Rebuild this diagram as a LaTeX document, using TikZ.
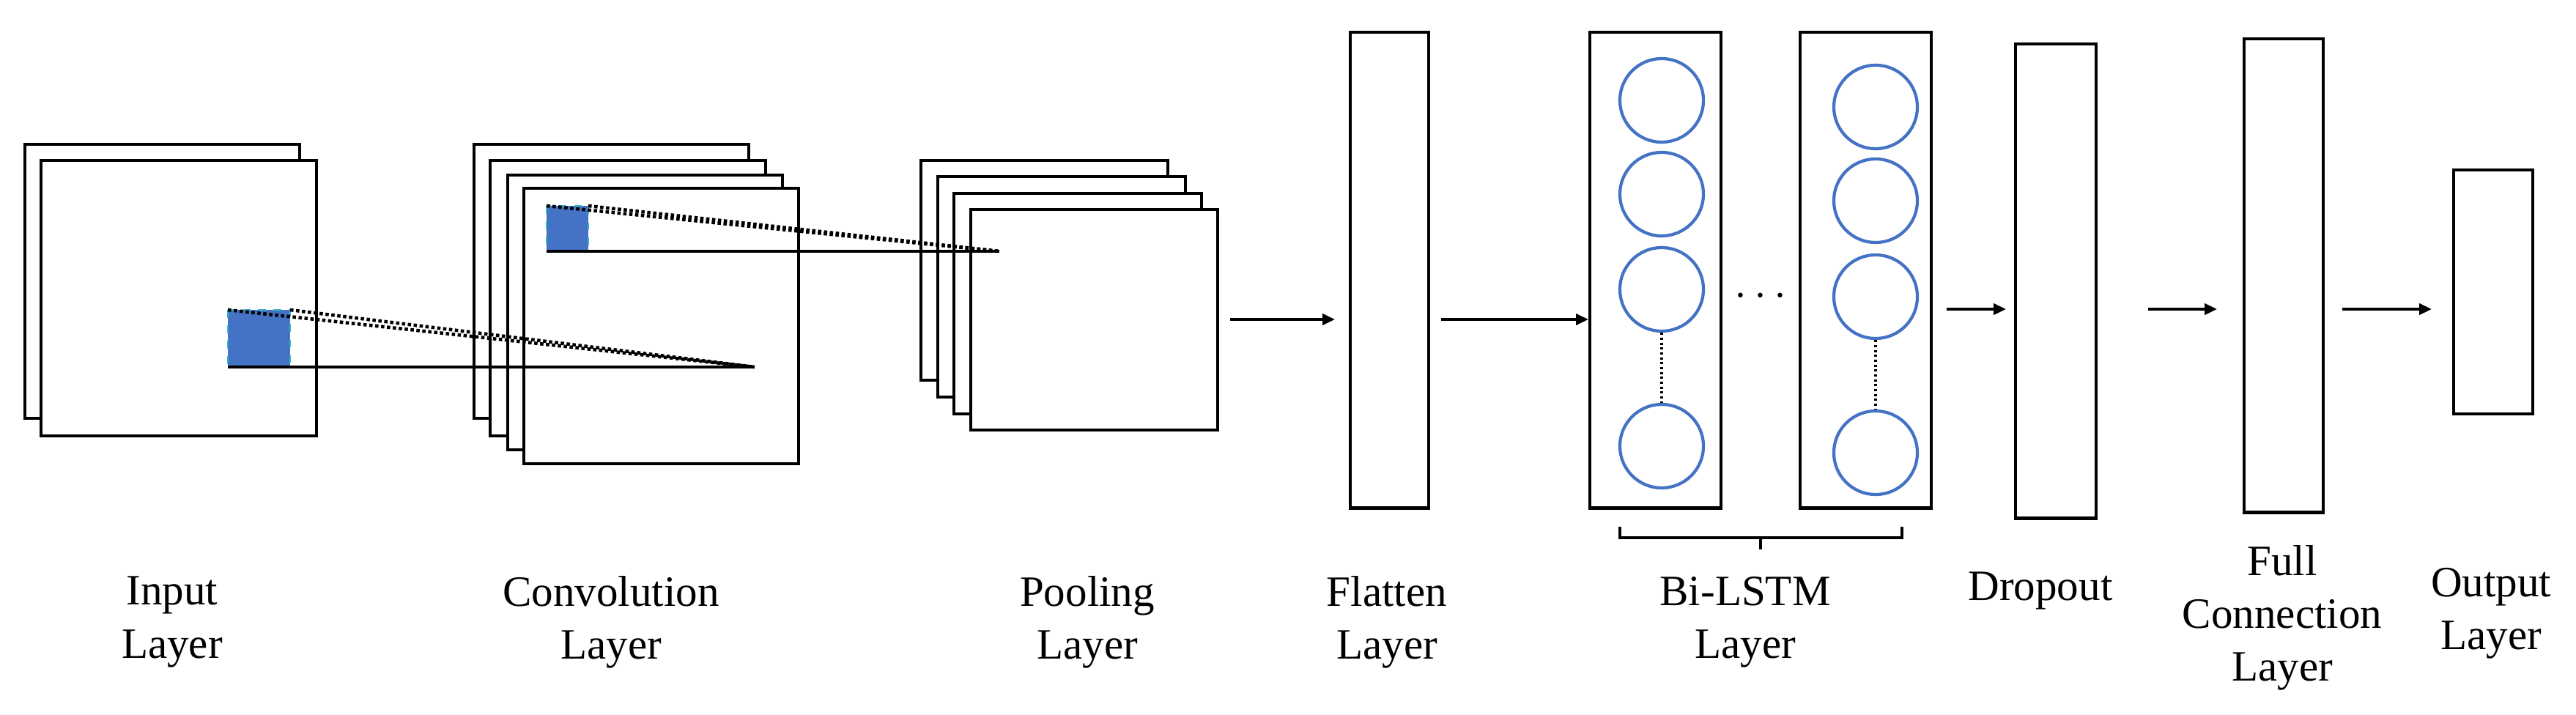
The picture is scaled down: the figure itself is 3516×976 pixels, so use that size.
\documentclass[tikz,border=0pt]{standalone}
\usepackage{fontspec}
\setmainfont{Liberation Serif}
\usetikzlibrary{arrows.meta}
\definecolor{cblue}{HTML}{4472C4}
\definecolor{ccyan}{HTML}{33B5C8}
\begin{document}
\begin{tikzpicture}[x=0.01cm,y=-0.01cm,
  box/.style={draw,line width=1.2pt,fill=white,inner sep=0pt,anchor=north west},
  cell/.style={draw=cblue,circle,line width=1.2pt,minimum size=1.14cm,inner sep=0pt},
  patch/.style={fill=cblue,draw=ccyan,dashed,line width=0.6pt},
  arr/.style={line width=1.3pt,-{Triangle[length=0.17cm,width=0.15cm]}},
  lbl/.style={font=\fontsize{16.8}{20.5}\selectfont,align=center},
  ray/.style={line width=1.3pt,densely dotted},
  base/.style={line width=1.3pt}]
\useasboundingbox (0,0) rectangle (3516,976);
% input layer
\node[box,minimum width=3.75cm,minimum height=3.74cm] (i1) at (32,195) {};
\node[box,minimum width=3.76cm,minimum height=3.76cm] (i2) at (54,217) {};
% convolution layer
\node[box,minimum width=3.75cm,minimum height=3.74cm] (c1) at (645,195) {};
\node[box,minimum width=3.76cm,minimum height=3.76cm] (c2) at (667,217) {};
\node[box,minimum width=3.75cm,minimum height=3.75cm] (c3) at (691,237) {};
\node[box,minimum width=3.75cm,minimum height=3.76cm] (c4) at (713,255) {};
% pooling layer
\node[box,minimum width=3.37cm,minimum height=3.00cm] (p1) at (1255,217) {};
\node[box,minimum width=3.38cm,minimum height=3.01cm] (p2) at (1278,239) {};
\node[box,minimum width=3.38cm,minimum height=3.01cm] (p3) at (1300,262) {};
\node[box,minimum width=3.37cm,minimum height=3.01cm] (p4) at (1323,284) {};
% patches and receptive field rays
\draw[patch] (311,423) rectangle (396,501);
\coordinate (a1) at (1030,501);
\draw[ray] (311,423) -- (a1);
\draw[ray] (396,423) -- (a1);
\draw[base] (311,501) -- (a1);
\draw[patch] (746,281) rectangle (803,343);
\coordinate (a2) at (1364,343);
\draw[ray] (746,281) -- (a2);
\draw[ray] (803,281) -- (a2);
\draw[base] (746,343) -- (a2);
% flatten
\node[box,minimum width=1.07cm,minimum height=6.49cm] (fl) at (1841,42) {};
% bi-lstm
\node[box,minimum width=1.79cm,minimum height=6.49cm] (l1) at (2168,42) {};
\node[box,minimum width=1.79cm,minimum height=6.49cm] (l2) at (2455,42) {};
\node[cell] (u1) at (2268,137) {};
\node[cell] (u2) at (2268,265) {};
\node[cell] (u3) at (2268,395) {};
\node[cell] (u4) at (2268,609) {};
\node[cell] (v1) at (2560,146) {};
\node[cell] (v2) at (2560,274) {};
\node[cell] (v3) at (2560,405) {};
\node[cell] (v4) at (2560,618) {};
\draw[densely dotted,line width=0.9pt] (u3) -- (u4);
\draw[densely dotted,line width=0.9pt] (v3) -- (v4);
\node[lbl] (dots) at (2403,405) {$\cdots$};
\draw[line width=1.2pt] (2211,719) -- (2211,734) -- (2596,734) -- (2596,719);
\draw[line width=1.2pt] (2403,734) -- (2403,750);
% dropout, fc, output
\node[box,minimum width=1.10cm,minimum height=6.47cm] (dr) at (2749,58) {};
\node[box,minimum width=1.08cm,minimum height=6.46cm] (fc) at (3061,51) {};
\node[box,minimum width=1.08cm,minimum height=3.33cm] (ou) at (3347,230) {};
% arrows
\coordinate (s1) at (1679,436); \coordinate (e1) at (1822,436);
\draw[arr] (s1) -- (e1);
\coordinate (s2) at (1967,436);
\draw[arr] (s2) -- (l1.west |- s2);
\coordinate (s3) at (2657,422); \coordinate (e3) at (2738,422);
\draw[arr] (s3) -- (e3);
\coordinate (s4) at (2932,422); \coordinate (e4) at (3026,422);
\draw[arr] (s4) -- (e4);
\coordinate (s5) at (3197,422); \coordinate (e5) at (3319,422);
\draw[arr] (s5) -- (e5);
% labels
\node[lbl] (t1) at (235,849) {Input\\Layer};
\node[lbl] (t2) at (834,849) {Convolution\\Layer};
\node[lbl] (t3) at (1484,849) {Pooling\\Layer};
\node[lbl] (t4) at (1893,849) {Flatten\\Layer};
\node[lbl] (t5) at (2382,849) {Bi-LSTM\\Layer};
\node[lbl] (t6) at (2785,806) {Dropout};
\node[lbl] (t7) at (3115,843) {Full\\Connection\\Layer};
\node[lbl] (t8) at (3400,837) {Output\\Layer};
\end{tikzpicture}
\end{document}
